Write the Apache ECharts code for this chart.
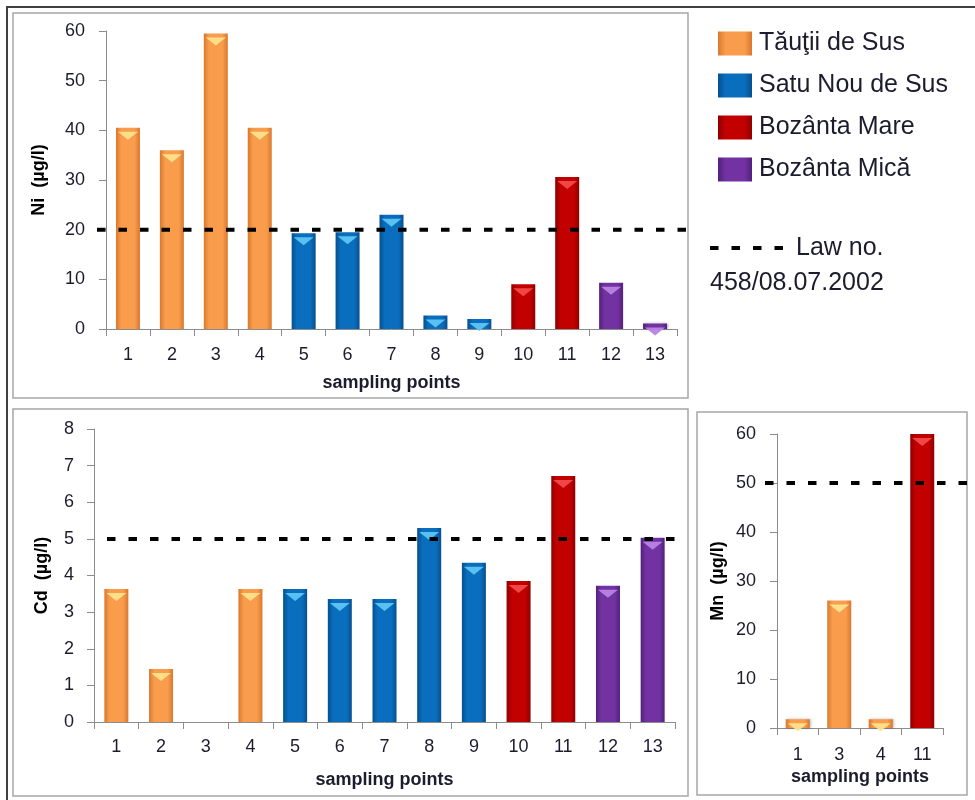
<!DOCTYPE html>
<html><head><meta charset="utf-8">
<script src="https://cdn.jsdelivr.net/npm/echarts@6/dist/echarts.min.js"></script>
<style>html,body{margin:0;padding:0;background:#fff}#c{width:975px;height:800px}</style>
</head><body><div id="c"></div>
<script>
// ---------- data ----------
const siteNames = ['Tăuţii de Sus', 'Satu Nou de Sus', 'Bozânta Mare', 'Bozânta Mică'];
const pointLabels = ['1','2','3','4','5','6','7','8','9','10','11','12','13'];
const pointSites = ['Tăuţii de Sus','Tăuţii de Sus','Tăuţii de Sus','Tăuţii de Sus',
  'Satu Nou de Sus','Satu Nou de Sus','Satu Nou de Sus','Satu Nou de Sus','Satu Nou de Sus',
  'Bozânta Mare','Bozânta Mare','Bozânta Mică','Bozânta Mică'];
const niValues = [40.5, 36, 59.5, 40.5, 19.3, 19.5, 23, 2.7, 2, 9, 30.6, 9.3, 1.1];
const cdValues = [3.63, 1.45, null, 3.63, 3.63, 3.36, 3.36, 5.3, 4.35, 3.85, 6.72, 3.72, 5.03];
const mnLabels = ['1','3','4','11'];
const mnSites = ['Tăuţii de Sus','Tăuţii de Sus','Tăuţii de Sus','Bozânta Mare'];
const mnValues = [1.8, 26, 1.8, 60];
const niLimit = 20, cdLimit = 5, mnLimit = 50;
const lawText1 = 'Law no.';
const lawText2 = '458/08.07.2002';
const niName = 'Ni  (µg/l)', cdName = 'Cd  (µg/l)', mnName = 'Mn  (µg/l)';
const xName = 'sampling points';

// ---------- styles ----------
const FONT = '"Liberation Sans", Arial, sans-serif';
const TXT = '#1c1c2e';
const siteColors = {
  'Tăuţii de Sus': ['#F99C4B', '#D9782E', '#FFE28C'],
  'Satu Nou de Sus': ['#0A6EBE', '#05508E', '#5EC4F4'],
  'Bozânta Mare': ['#C20000', '#8E0000', '#F24A4A'],
  'Bozânta Mică': ['#7232A2', '#52207A', '#B884E4']
};
function grad(site) {
  const [b, e] = siteColors[site];
  return new echarts.graphic.LinearGradient(0, 0, 1, 0, [
    {offset: 0, color: e}, {offset: 0.22, color: b}, {offset: 0.78, color: b}, {offset: 1, color: e}
  ]);
}

const chart = echarts.init(document.getElementById('c'), null, {renderer: 'canvas'});

function xAxisOf(gi, cats, nameGap, margin) {
  return {
    type: 'category', gridIndex: gi, data: cats, boundaryGap: true,
    name: xName, nameLocation: 'middle', nameGap: nameGap,
    nameTextStyle: {fontFamily: FONT, fontSize: 18, fontWeight: 'bold', color: TXT},
    axisLine: {lineStyle: {color: '#8c8c8c', width: 1}},
    axisTick: {show: true, length: 7, alignWithLabel: false, interval: 0, lineStyle: {color: '#8c8c8c'}},
    axisLabel: {interval: 0, margin: margin, fontFamily: FONT, fontSize: 18, color: TXT},
    splitLine: {show: false}
  };
}
function yAxisOf(gi, max, interval, name, nameGap, margin) {
  return {
    type: 'value', gridIndex: gi, min: 0, max: max, interval: interval,
    name: name, nameLocation: 'middle', nameGap: nameGap, nameRotate: 90,
    nameTextStyle: {fontFamily: FONT, fontSize: 18, fontWeight: 'bold', color: '#000'},
    axisLine: {show: true, lineStyle: {color: '#8c8c8c', width: 1}},
    axisTick: {show: true, length: 7, lineStyle: {color: '#8c8c8c'}},
    axisLabel: {margin: margin, fontFamily: FONT, fontSize: 18, color: TXT},
    splitLine: {show: false}
  };
}

const series = [];
function addBars(gi, values, sites, barW) {
  siteNames.forEach(site => {
    const data = values.map((v, i) => (sites[i] === site && v != null) ? v : '-');
    series.push({
      type: 'bar', name: site, xAxisIndex: gi, yAxisIndex: gi,
      barWidth: barW, barGap: '-100%',
      data: data,
      itemStyle: {color: grad(site), shadowBlur: 3, shadowColor: 'rgba(0,0,0,0.3)', shadowOffsetX: 1, shadowOffsetY: 0},
      emphasis: {disabled: true},
      z: 2
    });
  });
  // top bevel highlight on each bar
  siteNames.forEach(site => {
    const data = values.map((v, i) => (sites[i] === site && v != null) ? v : '-');
    series.push({
      type: 'pictorialBar', name: site + ' (top)', xAxisIndex: gi, yAxisIndex: gi,
      barWidth: barW, barGap: '-100%',
      symbol: 'path://M0,0 L10,0 L5,4 Z', symbolSize: [barW - 4, 8],
      symbolPosition: 'end', symbolOffset: [0, '50%'],
      data: data,
      itemStyle: {color: siteColors[site][2], opacity: 0.95},
      emphasis: {disabled: true}, silent: true,
      z: 3
    });
  });
}
addBars(0, niValues, pointSites, 24);
addBars(1, cdValues, pointSites, 24);
addBars(2, mnValues, mnSites, 24);

chart.setOption({
  animation: false,
  backgroundColor: '#fff',
  grid: [
    {left: 106, top: 31, width: 571, height: 298},
    {left: 94, top: 429, width: 581, height: 293},
    {left: 777, top: 434, width: 166, height: 294}
  ],
  xAxis: [
    xAxisOf(0, pointLabels, 45, 17),
    xAxisOf(1, pointLabels, 49, 16),
    xAxisOf(2, mnLabels, 40, 18)
  ],
  yAxis: [
    yAxisOf(0, 60, 10, niName, 58, 21),
    yAxisOf(1, 8, 1, cdName, 43, 20),
    yAxisOf(2, 60, 10, mnName, 50, 21)
  ],
  legend: {
    data: siteNames, orient: 'vertical', left: 718, top: 31, padding: 0,
    itemWidth: 34, itemHeight: 24, itemGap: 17, icon: 'rect',
    textStyle: {fontFamily: FONT, fontSize: 25, color: TXT, padding: [0, 0, 0, 2]},
    selectedMode: false
  },
  series: series
});

const niY = chart.convertToPixel({yAxisIndex: 0}, niLimit);
const cdY = chart.convertToPixel({yAxisIndex: 1}, cdLimit);
const mnY = chart.convertToPixel({yAxisIndex: 2}, mnLimit);
const dashStyle = {stroke: '#000', lineWidth: 4, lineDash: [8.5, 13], lineCap: 'butt'};

chart.setOption({
  graphic: [
    {type: 'rect', shape: {x: 7, y: 7, width: 1000, height: 1000}, style: {fill: 'none', stroke: '#404040', lineWidth: 2}, z: 0, silent: true},
    {type: 'rect', shape: {x: 13, y: 13, width: 675, height: 385}, style: {fill: 'none', stroke: '#a6a6a6', lineWidth: 1.5}, z: 0, silent: true},
    {type: 'rect', shape: {x: 13, y: 409, width: 675, height: 387}, style: {fill: 'none', stroke: '#a6a6a6', lineWidth: 1.5}, z: 0, silent: true},
    {type: 'rect', shape: {x: 697, y: 412, width: 270, height: 383}, style: {fill: 'none', stroke: '#a6a6a6', lineWidth: 1.5}, z: 0, silent: true},
    {type: 'line', shape: {x1: 97, y1: niY, x2: 688, y2: niY}, style: dashStyle, z: 50, silent: true},
    {type: 'line', shape: {x1: 107, y1: cdY, x2: 677, y2: cdY}, style: dashStyle, z: 50, silent: true},
    {type: 'line', shape: {x1: 765, y1: mnY, x2: 980, y2: mnY}, style: dashStyle, z: 50, silent: true},
    {type: 'line', shape: {x1: 710, y1: 248, x2: 788, y2: 248}, style: dashStyle, z: 50, silent: true},
    {type: 'text', x: 796, y: 248, style: {text: lawText1, font: '25px ' + FONT, fill: TXT, textVerticalAlign: 'middle'}, silent: true},
    {type: 'text', x: 710, y: 283, style: {text: lawText2, font: '25px ' + FONT, fill: TXT, textVerticalAlign: 'middle'}, silent: true}
  ]
});
</script></body></html>
